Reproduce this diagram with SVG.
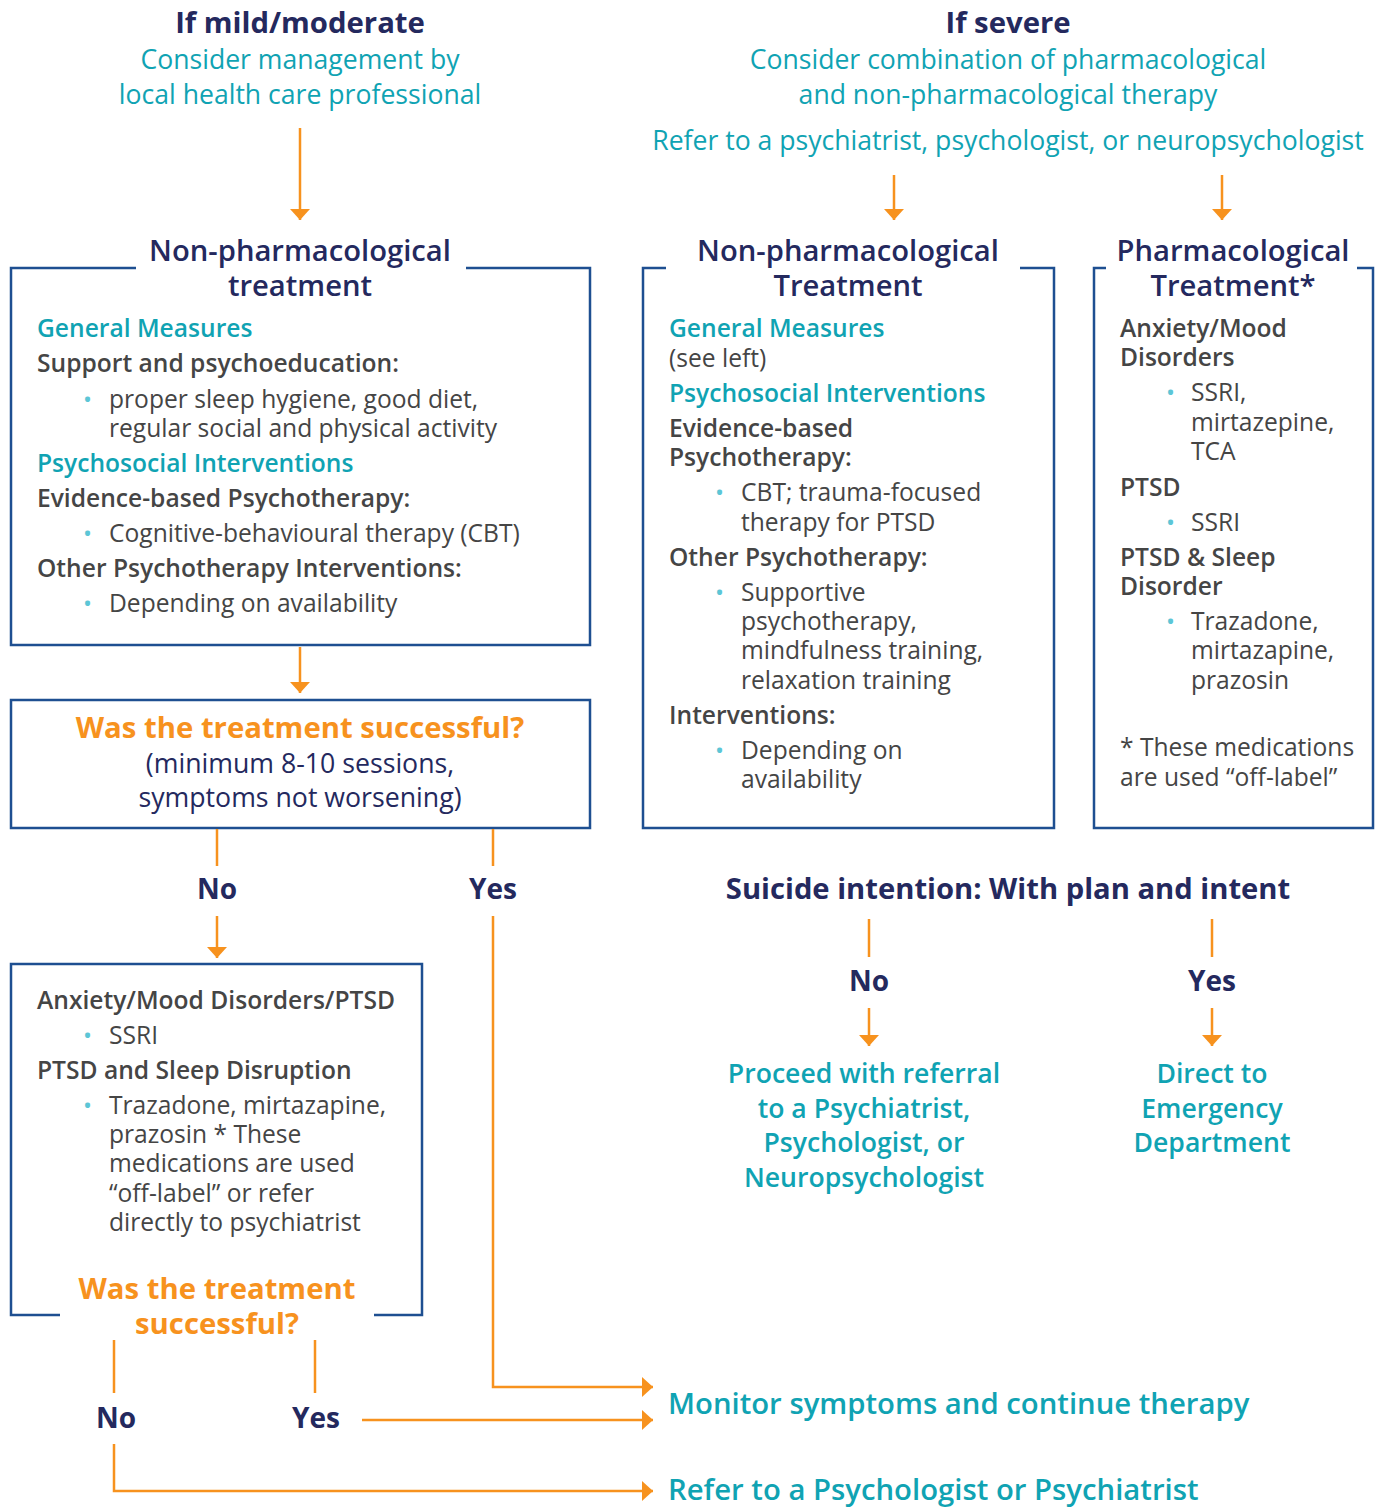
<svg xmlns="http://www.w3.org/2000/svg" width="1380" height="1507" viewBox="0 0 1380 1507">
<defs>
<style>
text{font-family:"Open Sans","Noto Sans","Liberation Sans",sans-serif;}
.hd{font-size:29.3px;font-weight:700;fill:#24295e;text-anchor:middle;}
.sub{font-size:26.6px;font-weight:400;fill:#10a3b3;text-anchor:middle;}
.ttl{font-size:29.2px;font-weight:600;fill:#24295e;text-anchor:middle;}
.tl{font-size:24.6px;font-weight:600;fill:#10a3b3;}
.lb{font-size:24.6px;font-weight:600;fill:#454545;}
.tx{font-size:24.6px;font-weight:400;fill:#454545;}
.bu{font-size:24px;fill:#5cc6d6;}
.q{font-size:29.3px;font-weight:700;fill:#f7921e;text-anchor:middle;}
.qs{font-size:26.7px;font-weight:400;fill:#24295e;text-anchor:middle;}
.yn{font-size:28px;font-weight:700;fill:#24295e;text-anchor:middle;}
.si{font-size:29.2px;font-weight:700;fill:#24295e;text-anchor:middle;}
.res{font-size:26.6px;font-weight:600;fill:#10a3b3;text-anchor:middle;}
.fin{font-size:29.3px;font-weight:600;fill:#10a3b3;}
.box{fill:none;stroke:#1e4f91;stroke-width:2.5;}
.con{fill:none;stroke:#f7921e;stroke-width:2.5;}
</style>
<marker id="ah" viewBox="0 0 11 20" refX="11" refY="10" markerWidth="11" markerHeight="20" orient="auto" markerUnits="userSpaceOnUse"><path d="M0,0 L11,10 L0,20 z" fill="#f7921e"/></marker>
</defs>
<rect width="1380" height="1507" fill="#ffffff"/>

<g id="mild-header">
<text class="hd" x="300" y="33">If mild/moderate</text>
<text class="sub" x="300" y="69">Consider management by</text>
<text class="sub" x="300" y="104">local health care professional</text>
</g>

<g id="severe-header">
<text class="hd" x="1008" y="33">If severe</text>
<text class="sub" x="1008" y="69">Consider combination of pharmacological</text>
<text class="sub" x="1008" y="104">and non-pharmacological therapy</text>
<text class="sub" x="1008" y="150">Refer to a psychiatrist, psychologist, or neuropsychologist</text>
</g>

<g id="nonpharm-mild">
<path class="box" d="M136,268 H11 V645 H590 V268 H466"/>
<text class="ttl" x="300" y="261">Non-pharmacological</text>
<text class="ttl" x="300" y="296">treatment</text>
<text class="tl" x="37" y="337">General Measures</text>
<text class="lb" x="37" y="372">Support and psychoeducation:</text>
<text class="bu" x="83" y="408">•</text>
<text class="tx" x="109" y="408">proper sleep hygiene, good diet,</text>
<text class="tx" x="109" y="437">regular social and physical activity</text>
<text class="tl" x="37" y="472">Psychosocial Interventions</text>
<text class="lb" x="37" y="507">Evidence-based Psychotherapy:</text>
<text class="bu" x="83" y="542">•</text>
<text class="tx" x="109" y="542">Cognitive-behavioural therapy (CBT)</text>
<text class="lb" x="37" y="577">Other Psychotherapy Interventions:</text>
<text class="bu" x="83" y="612">•</text>
<text class="tx" x="109" y="612">Depending on availability</text>
</g>

<g id="question-1">
<rect class="box" x="11" y="700" width="579" height="128"/>
<text class="q" x="300" y="738">Was the treatment successful?</text>
<text class="qs" x="300" y="773">(minimum 8-10 sessions,</text>
<text class="qs" x="300" y="807">symptoms not worsening)</text>
</g>

<g id="label-no-1"><text class="yn" x="217" y="899">No</text></g>
<g id="label-yes-1"><text class="yn" x="493" y="899">Yes</text></g>

<g id="pharm-mild">
<path class="box" d="M60,1315 H11 V964 H422 V1315 H374"/>
<text class="lb" x="37" y="1009">Anxiety/Mood Disorders/PTSD</text>
<text class="bu" x="83" y="1044">•</text>
<text class="tx" x="109" y="1044">SSRI</text>
<text class="lb" x="37" y="1079">PTSD and Sleep Disruption</text>
<text class="bu" x="83" y="1114">•</text>
<text class="tx" x="109" y="1114">Trazadone, mirtazapine,</text>
<text class="tx" x="109" y="1143">prazosin * These</text>
<text class="tx" x="109" y="1172">medications are used</text>
<text class="tx" x="109" y="1202">“off-label” or refer</text>
<text class="tx" x="109" y="1231">directly to psychiatrist</text>
<text class="q" x="217" y="1299">Was the treatment</text>
<text class="q" x="217" y="1334">successful?</text>
</g>

<g id="label-no-2"><text class="yn" x="116" y="1428">No</text></g>
<g id="label-yes-2"><text class="yn" x="316" y="1428">Yes</text></g>

<g id="monitor"><text class="fin" x="668" y="1414">Monitor symptoms and continue therapy</text></g>
<g id="refer"><text class="fin" x="668" y="1500">Refer to a Psychologist or Psychiatrist</text></g>

<g id="nonpharm-severe">
<path class="box" d="M666,268 H643 V828 H1054 V268 H1020"/>
<text class="ttl" x="848" y="261">Non-pharmacological</text>
<text class="ttl" x="848" y="296">Treatment</text>
<text class="tl" x="669" y="337">General Measures</text>
<text class="tx" x="669" y="367">(see left)</text>
<text class="tl" x="669" y="402">Psychosocial Interventions</text>
<text class="lb" x="669" y="437">Evidence-based</text>
<text class="lb" x="669" y="466">Psychotherapy:</text>
<text class="bu" x="715" y="501">•</text>
<text class="tx" x="741" y="501">CBT; trauma-focused</text>
<text class="tx" x="741" y="531">therapy for PTSD</text>
<text class="lb" x="669" y="566">Other Psychotherapy:</text>
<text class="bu" x="715" y="601">•</text>
<text class="tx" x="741" y="601">Supportive</text>
<text class="tx" x="741" y="630">psychotherapy,</text>
<text class="tx" x="741" y="659">mindfulness training,</text>
<text class="tx" x="741" y="689">relaxation training</text>
<text class="lb" x="669" y="724">Interventions:</text>
<text class="bu" x="715" y="759">•</text>
<text class="tx" x="741" y="759">Depending on</text>
<text class="tx" x="741" y="788">availability</text>
</g>

<g id="pharm-severe">
<path class="box" d="M1106,268 H1094 V828 H1373 V268 H1357"/>
<text class="ttl" x="1233" y="261">Pharmacological</text>
<text class="ttl" x="1233" y="296">Treatment*</text>
<text class="lb" x="1120" y="337">Anxiety/Mood</text>
<text class="lb" x="1120" y="366">Disorders</text>
<text class="bu" x="1166" y="401">•</text>
<text class="tx" x="1191" y="401">SSRI,</text>
<text class="tx" x="1191" y="431">mirtazepine,</text>
<text class="tx" x="1191" y="460">TCA</text>
<text class="lb" x="1120" y="496">PTSD</text>
<text class="bu" x="1166" y="531">•</text>
<text class="tx" x="1191" y="531">SSRI</text>
<text class="lb" x="1120" y="566">PTSD &amp; Sleep</text>
<text class="lb" x="1120" y="595">Disorder</text>
<text class="bu" x="1166" y="630">•</text>
<text class="tx" x="1191" y="630">Trazadone,</text>
<text class="tx" x="1191" y="659">mirtazapine,</text>
<text class="tx" x="1191" y="689">prazosin</text>
<text class="tx" x="1120" y="756">* These medications</text>
<text class="tx" x="1120" y="786">are used “off-label”</text>
</g>

<g id="suicide">
<text class="si" x="1008" y="899">Suicide intention: With plan and intent</text>
</g>
<g id="label-no-3"><text class="yn" x="869" y="991">No</text></g>
<g id="label-yes-3"><text class="yn" x="1212" y="991">Yes</text></g>

<g id="proceed">
<text class="res" x="864" y="1083">Proceed with referral</text>
<text class="res" x="864" y="1118">to a Psychiatrist,</text>
<text class="res" x="864" y="1152">Psychologist, or</text>
<text class="res" x="864" y="1187">Neuropsychologist</text>
</g>
<g id="emergency">
<text class="res" x="1212" y="1083">Direct to</text>
<text class="res" x="1212" y="1118">Emergency</text>
<text class="res" x="1212" y="1152">Department</text>
</g>

<g id="connectors">
<line class="con" x1="300" y1="128" x2="300" y2="220" marker-end="url(#ah)"/>
<line class="con" x1="894" y1="175" x2="894" y2="220" marker-end="url(#ah)"/>
<line class="con" x1="1222" y1="175" x2="1222" y2="220" marker-end="url(#ah)"/>
<line class="con" x1="300" y1="647" x2="300" y2="693" marker-end="url(#ah)"/>
<line class="con" x1="217" y1="829" x2="217" y2="866"/>
<line class="con" x1="217" y1="916" x2="217" y2="958" marker-end="url(#ah)"/>
<line class="con" x1="493" y1="829" x2="493" y2="866"/>
<path class="con" d="M493,916 V1387 H653" marker-end="url(#ah)"/>
<line class="con" x1="114" y1="1340" x2="114" y2="1393"/>
<line class="con" x1="315" y1="1340" x2="315" y2="1393"/>
<line class="con" x1="362" y1="1420" x2="653" y2="1420" marker-end="url(#ah)"/>
<path class="con" d="M114,1444 V1491 H653" marker-end="url(#ah)"/>
<line class="con" x1="869" y1="919" x2="869" y2="957"/>
<line class="con" x1="869" y1="1008" x2="869" y2="1046" marker-end="url(#ah)"/>
<line class="con" x1="1212" y1="919" x2="1212" y2="957"/>
<line class="con" x1="1212" y1="1008" x2="1212" y2="1046" marker-end="url(#ah)"/>
</g>
</svg>
